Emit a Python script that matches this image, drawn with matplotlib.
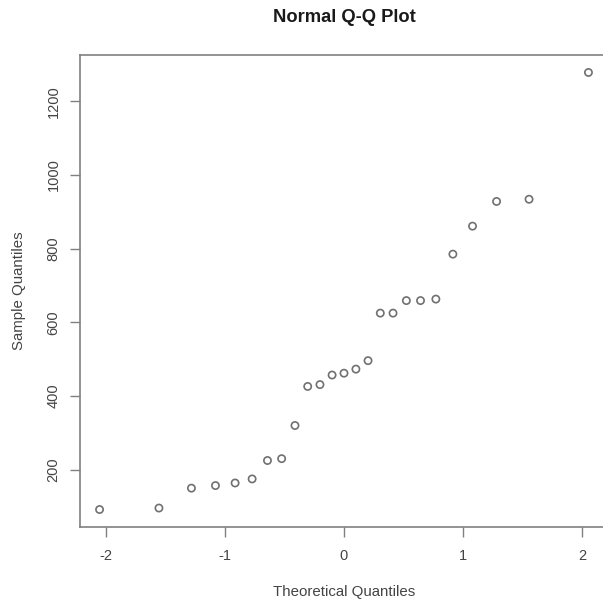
import numpy as np
import matplotlib
matplotlib.use("Agg")
import matplotlib.pyplot as plt

# Normal Q-Q plot (R style)

theoretical = [-2.054, -1.555, -1.282, -1.080, -0.915, -0.772, -0.643, -0.524,
               -0.412, -0.305, -0.202, -0.100, 0.000, 0.100, 0.202, 0.305,
               0.412, 0.524, 0.643, 0.772, 0.915, 1.080, 1.282, 1.555, 2.054]
sample = [92, 96, 150, 157, 164, 175, 225, 230, 320, 426, 431, 457, 462,
          473, 496, 625, 625, 659, 659, 663, 785, 861, 928, 934, 1278]
x_ticks = [-2, -1, 0, 1, 2]
y_ticks = [200, 400, 600, 800, 1000, 1200]


def main():
    plt.rcParams['font.family'] = ['Liberation Sans', 'DejaVu Sans']
    text_col = '#444444'
    line_col = '#808080'

    fig = plt.figure(figsize=(6.03, 6.01), dpi=100)
    ax = fig.add_axes([80 / 603, 1 - 527 / 601, 528 / 603, 472 / 601])

    ax.scatter(theoretical, sample, s=27, facecolors='none',
               edgecolors='#707070', linewidths=1.2, zorder=3)

    # R default: data range padded by 4% on each side
    xr = max(theoretical) - min(theoretical)
    yr = max(sample) - min(sample)
    ax.set_xlim(min(theoretical) - 0.04 * xr, max(theoretical) + 0.04 * xr)
    ax.set_ylim(min(sample) - 0.04 * yr, max(sample) + 0.04 * yr)

    ax.set_xticks(x_ticks)
    ax.set_yticks(y_ticks)
    ax.set_xticklabels([str(t) for t in x_ticks])
    ax.set_yticklabels([str(t) for t in y_ticks], rotation=90, va='center')

    ax.tick_params(direction='out', length=7, width=1, color=line_col,
                   labelsize=10.5, labelcolor=text_col)
    ax.tick_params(axis='x', pad=9)
    ax.tick_params(axis='y', pad=7)
    for sp in ax.spines.values():
        sp.set_color(line_col)
        sp.set_linewidth(1.2)

    ax.set_xlabel('Theoretical Quantiles', fontsize=10.8, color=text_col,
                  labelpad=16)
    ax.set_ylabel('Sample Quantiles', fontsize=10.8, color=text_col,
                  labelpad=15)
    fig.text(344 / 603, 1 - 18 / 601, 'Normal Q-Q Plot', ha='center',
             va='center', fontsize=13.2, fontweight='bold', color='#1a1a1a')

    fig.savefig('out.png', dpi=100)


if __name__ == "__main__":
    main()
